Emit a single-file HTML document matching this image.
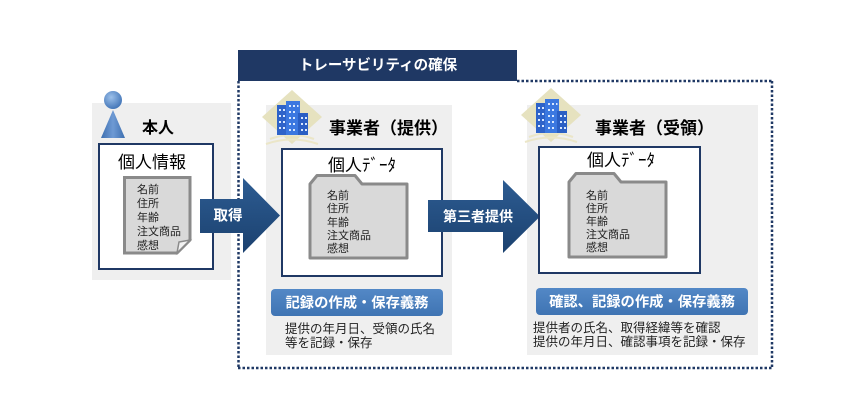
<!DOCTYPE html>
<html><head><meta charset="utf-8">
<style>
html,body{margin:0;padding:0;background:#fff;}
svg{display:block;}
text{font-family:"Liberation Sans","Noto Sans CJK JP",sans-serif;}
</style></head>
<body>
<svg width="860" height="418" viewBox="0 0 860 418" xmlns="http://www.w3.org/2000/svg">
<defs>
<linearGradient id="arr" x1="0" y1="0" x2="0" y2="1">
<stop offset="0" stop-color="#2d5c92"/><stop offset="1" stop-color="#1b416f"/>
</linearGradient>
<linearGradient id="lbl" x1="0" y1="0" x2="0" y2="1">
<stop offset="0" stop-color="#5388c6"/><stop offset="1" stop-color="#3f74b3"/>
</linearGradient>
<radialGradient id="head" cx="0.4" cy="0.35" r="0.7">
<stop offset="0" stop-color="#9cc0ea"/><stop offset="1" stop-color="#3f72b5"/>
</radialGradient>
<linearGradient id="body" x1="0" y1="0" x2="1" y2="0">
<stop offset="0" stop-color="#3d6fb0"/><stop offset="0.5" stop-color="#6e9ad4"/><stop offset="1" stop-color="#3d6fb0"/>
</linearGradient>
<g id="bldg">
<polygon points="0,-27 30,0 0,27 -30,0" fill="#e6e2bf"/>
<path d="M-22,22 Q0,14 22,22" stroke="#ebe6c8" stroke-width="2" fill="none"/>
<path d="M-26,27 Q0,18 26,27" stroke="#ebe6c8" stroke-width="2" fill="none"/>
<rect x="-15" y="-12" width="10" height="30" fill="#2e63c9"/>
<rect x="-6" y="-16" width="14" height="34" fill="#3b78e0"/>
<rect x="6" y="-4" width="10" height="22" fill="#2a5fc4"/>
<g fill="#d8e8ff">
<rect x="-13" y="-8" width="2" height="2"/><rect x="-9" y="-8" width="2" height="2"/>
<rect x="-13" y="-2" width="2" height="2"/><rect x="-9" y="-2" width="2" height="2"/>
<rect x="-13" y="4" width="2" height="2"/><rect x="-9" y="4" width="2" height="2"/>
<rect x="-13" y="10" width="2" height="2"/><rect x="-9" y="10" width="2" height="2"/>
<rect x="-3" y="-12" width="2" height="2"/><rect x="1" y="-12" width="2" height="2"/><rect x="5" y="-12" width="1.5" height="2"/>
<rect x="-3" y="-6" width="2" height="2"/><rect x="1" y="-6" width="2" height="2"/>
<rect x="-3" y="0" width="2" height="2"/><rect x="1" y="0" width="2" height="2"/>
<rect x="-3" y="6" width="2" height="2"/><rect x="1" y="6" width="2" height="2"/>
<rect x="-3" y="12" width="2" height="2"/><rect x="1" y="12" width="2" height="2"/>
<rect x="9" y="0" width="2" height="2"/><rect x="13" y="0" width="2" height="2"/>
<rect x="9" y="6" width="2" height="2"/><rect x="13" y="6" width="2" height="2"/>
<rect x="9" y="12" width="2" height="2"/><rect x="13" y="12" width="2" height="2"/>
</g>
</g>
</defs>

<!-- gray panels -->
<rect x="92" y="103" width="139" height="177" fill="#efefef"/>
<rect x="266" y="105" width="186" height="250" fill="#efefef"/>
<rect x="527" y="105" width="231" height="250" fill="#efefef"/>

<!-- dotted traceability frame -->
<g stroke="#1f3864" stroke-width="2.5" stroke-dasharray="2.5 2" fill="none">
<line x1="238.5" y1="81" x2="238.5" y2="368"/>
<line x1="238" y1="368" x2="772" y2="368"/>
<line x1="772" y1="81" x2="772" y2="368"/>
<line x1="517" y1="81" x2="772" y2="81"/>
</g>

<!-- title bar -->
<rect x="238" y="50" width="279" height="31" fill="#1f3864"/>
<text x="378" y="70" fill="#fff" font-size="14.5" font-weight="bold" text-anchor="middle">トレーサビリティの確保</text>

<!-- person -->
<polygon points="113,110 125,138 101,138" fill="url(#body)"/>
<circle cx="113" cy="100" r="9" fill="url(#head)"/>
<text x="142" y="133" font-size="16" font-weight="bold" fill="#000">本人</text>

<!-- left white box -->
<rect x="99" y="144" width="114" height="125" fill="#fff" stroke="#1f3864" stroke-width="2"/>
<text x="118" y="168" font-size="17" fill="#000">個人情報</text>
<path d="M124.5,177.5 L190,177.5 L190,240 L177,253 L124.5,253 Z" fill="#d9d9d9" stroke="#8a8a8a" stroke-width="3"/>
<path d="M177,253 L179,242 L190,240 Z" fill="#f2f2f2" stroke="#8a8a8a" stroke-width="1.5"/>
<g font-size="11" fill="#222">
<text x="137" y="193">名前</text>
<text x="137" y="207">住所</text>
<text x="137" y="221">年齢</text>
<text x="137" y="235">注文商品</text>
<text x="137" y="249">感想</text>
</g>

<!-- arrow 1 -->
<path d="M200,199 L243,199 L243,178 L280,215.5 L243,253 L243,233 L200,233 Z" fill="url(#arr)"/>
<text x="228" y="220.5" font-size="14.5" font-weight="bold" fill="#fff" text-anchor="middle">取得</text>

<!-- middle section -->
<use href="#bldg" x="292" y="117"/>
<text x="329" y="134" font-size="17" font-weight="bold" fill="#000">事業者（提供）</text>
<rect x="282" y="149" width="160" height="127" fill="#fff" stroke="#1f3864" stroke-width="2"/>
<text x="328" y="171" font-size="17" fill="#000">個人ﾃﾞｰﾀ</text>
<path d="M310,184 L317,175.5 L355,175.5 L362,184 L407,184 L407,258 L310,258 Z" fill="#d9d9d9" stroke="#8a8a8a" stroke-width="3" stroke-linejoin="round"/>
<g font-size="11" fill="#222">
<text x="327" y="199">名前</text>
<text x="327" y="212">住所</text>
<text x="327" y="226">年齢</text>
<text x="327" y="239">注文商品</text>
<text x="327" y="252">感想</text>
</g>
<rect x="271" y="289" width="172" height="27" rx="4" fill="url(#lbl)"/>
<text x="357" y="307.5" font-size="14.3" font-weight="bold" fill="#fff" text-anchor="middle">記録の作成・保存義務</text>
<g font-size="12.5" fill="#222">
<text x="285" y="333">提供の年月日、受領の氏名</text>
<text x="285" y="347">等を記録・保存</text>
</g>

<!-- arrow 2 -->
<path d="M428,200 L503,200 L503,180 L540,216.5 L503,253 L503,232 L428,232 Z" fill="url(#arr)"/>
<text x="478" y="221.5" font-size="14" font-weight="bold" fill="#fff" text-anchor="middle">第三者提供</text>

<!-- right section -->
<use href="#bldg" x="551" y="115"/>
<text x="595" y="134" font-size="17" font-weight="bold" fill="#000">事業者（受領）</text>
<rect x="539" y="147" width="161" height="126" fill="#fff" stroke="#1f3864" stroke-width="2"/>
<text x="587" y="166" font-size="17" fill="#000">個人ﾃﾞｰﾀ</text>
<path d="M569,182 L576,173.5 L614,173.5 L621,182 L666,182 L666,257 L569,257 Z" fill="#d9d9d9" stroke="#8a8a8a" stroke-width="3" stroke-linejoin="round"/>
<g font-size="11" fill="#222">
<text x="586" y="199">名前</text>
<text x="586" y="212">住所</text>
<text x="586" y="225">年齢</text>
<text x="586" y="238">注文商品</text>
<text x="586" y="251">感想</text>
</g>
<rect x="536" y="288" width="212" height="27" rx="4" fill="url(#lbl)"/>
<text x="642" y="306.5" font-size="14.3" font-weight="bold" fill="#fff" text-anchor="middle">確認、記録の作成・保存義務</text>
<g font-size="12.5" fill="#222">
<text x="533" y="332">提供者の氏名、取得経緯等を確認</text>
<text x="533" y="346">提供の年月日、確認事項を記録・保存</text>
</g>
</svg>
</body></html>
